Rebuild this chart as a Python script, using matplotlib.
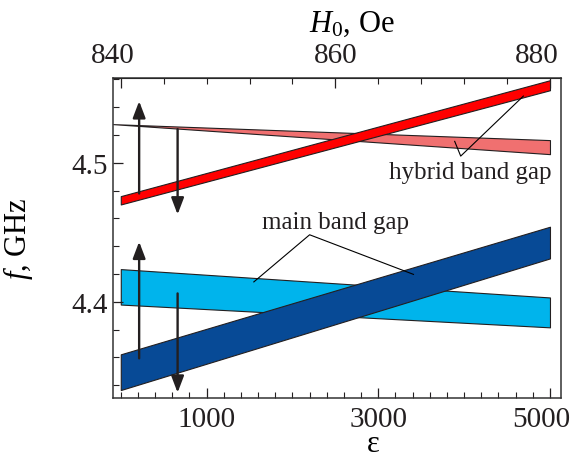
import numpy as np
import matplotlib.pyplot as plt
from matplotlib.ticker import MultipleLocator, FixedLocator
from matplotlib.transforms import ScaledTranslation

plt.rcParams['font.family'] = ['Liberation Serif', 'DejaVu Serif']
plt.rcParams['mathtext.fontset'] = 'custom'
plt.rcParams['mathtext.rm'] = 'Liberation Serif'
plt.rcParams['mathtext.it'] = 'Liberation Serif:italic'

# band edges: eps at left / right end, f (GHz) lower and upper edge
eps = [0, 5000]
eps_hyb = [-90, 5000]
hyb_low = [4.5278, 4.5062]   # pink, hybrid band gap
hyb_up = [4.5278, 4.5163]
red_low = [4.4700, 4.5522]   # red, hybrid band gap
red_up = [4.4760, 4.5594]
main_low = [4.3980, 4.3816]  # light blue, main band gap
main_up = [4.4235, 4.4031]
dark_low = [4.3365, 4.4312]  # dark blue, main band gap
dark_up = [4.3622, 4.4540]

# arrows: eps, f start, f end
arrows = [(214, 4.4779, 4.5443), (662, 4.5242, 4.4628),
          (214, 4.3593, 4.4432), (662, 4.4060, 4.3346)]

fig = plt.figure(figsize=(5.73, 4.6), dpi=100)
ax = fig.add_axes([0.197, 0.1333, 0.782, 0.695])

def band(x, lo, up, color):
    ax.fill_between(x, lo, up, facecolor=color, edgecolor='#231f20', linewidth=0.8)

band(eps_hyb, hyb_low, hyb_up, '#f07070')
band(eps, red_low, red_up, '#ff0000')
band(eps, main_low, main_up, '#00b4ec')
band(eps, dark_low, dark_up, '#074a96')

for x, y0, y1 in arrows:
    ax.annotate('', xy=(x, y1), xytext=(x, y0),
                arrowprops=dict(arrowstyle='-|>,head_length=1.0,head_width=0.38',
                                color='#231f20', lw=1.7, shrinkA=0, shrinkB=0))

# annotations
ax.text(4070, 4.4935, 'hybrid band gap', fontsize=18, ha='center', va='center', color='#231f20')
ax.plot([3890, 3960, 4690], [4.5154, 4.5048, 4.5480], color='black', lw=0.8)
ax.text(2500, 4.4575, 'main band gap', fontsize=18, ha='center', va='center', color='#231f20')
ax.plot([1550, 2200, 3410], [4.4143, 4.4482, 4.4197], color='black', lw=0.8)

ax.set_xlim(-92, 5128)
ax.set_ylim(4.331, 4.561)

ax.xaxis.set_major_locator(FixedLocator([1000, 3000, 5000]))
ax.xaxis.set_minor_locator(MultipleLocator(200))
ax.yaxis.set_major_locator(FixedLocator([4.4, 4.5]))
ax.yaxis.set_minor_locator(MultipleLocator(0.02))
ax.tick_params(which='both', direction='in', labelsize=21, right=False, top=False, colors='#231f20')
ax.tick_params(which='major', length=7, width=0.9)
ax.tick_params(which='minor', length=4, width=0.8)
ax.tick_params(axis='x', pad=6)
for s in ax.spines.values():
    s.set_linewidth(1.1)
    s.set_color('#333333')

ax.set_xlabel('ε', fontsize=22, labelpad=-2)
ax.xaxis.label.set_x(0.58)
ax.set_ylabel('$f$, GHz', fontsize=22, labelpad=26)

top = ax.secondary_xaxis('top', functions=(lambda e: 840 + e * 40 / 5000, lambda h: (h - 840) * 5000 / 40))
top.xaxis.set_major_locator(FixedLocator([840, 860, 880]))
top.xaxis.set_minor_locator(MultipleLocator(4))
top.tick_params(which='both', direction='in', labelsize=21, colors='#231f20')
top.tick_params(which='major', length=7, width=0.9, pad=7)
top.tick_params(which='minor', length=4, width=0.8)
top.set_xlabel('$H_0$, Oe', fontsize=22, labelpad=8)
top.xaxis.label.set_x(0.533)

fig.canvas.draw()
# the end labels sit a little to the left of their ticks in the original
def shift(lbl, px):
    lbl.set_transform(lbl.get_transform() + ScaledTranslation(px / 100, 0, fig.dpi_scale_trans))

shift(ax.xaxis.get_major_ticks()[2].label1, -9)
tt = top.xaxis.get_major_ticks()
shift(tt[0].label2, -8)
shift(tt[2].label2, -13)

fig.savefig('out.png', dpi=100)
